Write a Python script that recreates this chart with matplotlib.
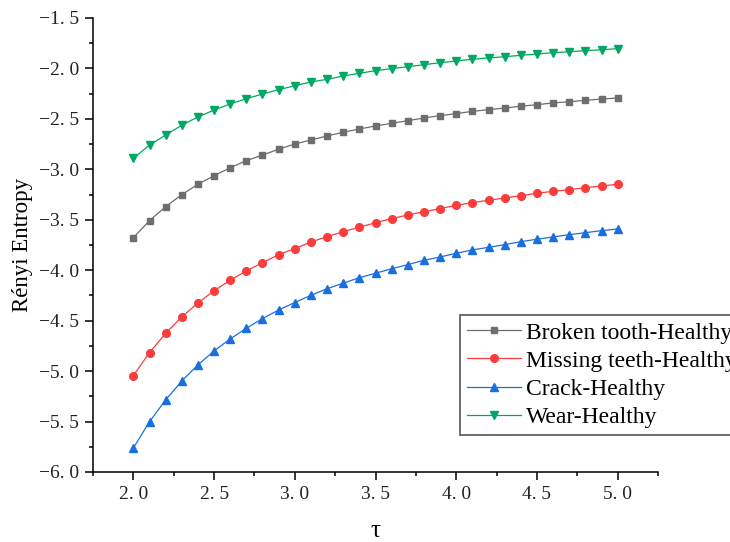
import matplotlib
matplotlib.use("Agg")
import matplotlib.pyplot as plt
from matplotlib.ticker import FixedLocator, MultipleLocator

# data
tau = [2.0, 2.1, 2.2, 2.3, 2.4, 2.5, 2.6, 2.7, 2.8, 2.9, 3.0,
       3.1, 3.2, 3.3, 3.4, 3.5, 3.6, 3.7, 3.8, 3.9, 4.0,
       4.1, 4.2, 4.3, 4.4, 4.5, 4.6, 4.7, 4.8, 4.9, 5.0]

broken = [-3.677, -3.509, -3.370, -3.251, -3.148, -3.063, -2.984, -2.914, -2.858, -2.801, -2.749,
          -2.709, -2.669, -2.633, -2.600, -2.570, -2.544, -2.518, -2.491, -2.468, -2.448,
          -2.425, -2.409, -2.392, -2.375, -2.359, -2.342, -2.330, -2.316, -2.303, -2.293]
missing = [-5.045, -4.817, -4.625, -4.463, -4.325, -4.203, -4.100, -4.007, -3.925, -3.846, -3.786,
           -3.720, -3.667, -3.618, -3.574, -3.529, -3.489, -3.452, -3.420, -3.390, -3.356,
           -3.330, -3.307, -3.284, -3.261, -3.237, -3.218, -3.202, -3.182, -3.165, -3.148]
crack = [-5.762, -5.501, -5.286, -5.098, -4.939, -4.800, -4.681, -4.575, -4.480, -4.394, -4.320,
         -4.248, -4.183, -4.129, -4.074, -4.030, -3.985, -3.945, -3.901, -3.869, -3.832,
         -3.799, -3.773, -3.747, -3.717, -3.693, -3.670, -3.648, -3.628, -3.608, -3.591]
wear = [-2.890, -2.760, -2.660, -2.563, -2.481, -2.412, -2.352, -2.300, -2.253, -2.211, -2.171,
        -2.134, -2.108, -2.075, -2.048, -2.022, -2.002, -1.983, -1.963, -1.943, -1.926,
        -1.909, -1.896, -1.884, -1.870, -1.857, -1.844, -1.834, -1.824, -1.814, -1.804]

labels = ["Broken tooth-Healthy", "Missing teeth-Healthy", "Crack-Healthy", "Wear-Healthy"]

xticks = [2.0, 2.5, 3.0, 3.5, 4.0, 4.5, 5.0]
yticks = [-6.0, -5.5, -5.0, -4.5, -4.0, -3.5, -3.0, -2.5, -2.0, -1.5]

plt.rcParams['font.family'] = ['Liberation Serif', 'DejaVu Serif']


def fmt(v):
    # tick labels look like "2. 0" with a real minus sign
    return f"{v:.1f}".replace('.', '. ').replace('-', '\u2212')


fig = plt.figure(figsize=(7.3, 5.42), dpi=100)
ax = fig.add_axes([93 / 730, 1 - 472 / 542, (658 - 93) / 730, (472 - 18) / 542])

ax.plot(tau, broken, color='#6e6e6e', marker='s', markersize=5, linewidth=0.9, label=labels[0])
ax.plot(tau, missing, color='#fa3c3c', marker='o', markersize=5.5, linewidth=0.9, label=labels[1])
ax.plot(tau, crack, color='#1a6fe0', marker='^', markersize=6, linewidth=0.9, label=labels[2])
ax.plot(tau, wear, color='#00a864', marker='v', markersize=6, linewidth=0.9, label=labels[3])

ax.set_xlim(1.75, 5.25)
ax.set_ylim(-6.0, -1.5)

ax.xaxis.set_major_locator(FixedLocator(xticks))
ax.set_xticklabels([fmt(v) for v in xticks])
ax.xaxis.set_minor_locator(MultipleLocator(0.25))
ax.yaxis.set_major_locator(FixedLocator(yticks))
ax.set_yticklabels([fmt(v) for v in yticks])
ax.yaxis.set_minor_locator(MultipleLocator(0.25))

ax.spines['top'].set_visible(False)
ax.spines['right'].set_visible(False)
for s in ['left', 'bottom']:
    ax.spines[s].set_linewidth(1.1)

ax.tick_params(which='major', direction='out', length=6, width=1.1, labelsize=14, pad=4, colors='black')
ax.tick_params(which='minor', direction='out', length=3, width=1.1)
for t in ax.get_xticklabels() + ax.get_yticklabels():
    t.set_color('#222222')

ax.set_xlabel('\u03c4', fontsize=18, labelpad=12)
ax.set_ylabel('R\u00e9nyi Entropy', fontsize=16.5, labelpad=4)

leg = ax.legend(loc='upper left', bbox_to_anchor=(460 / 730, 1 - 315 / 542),
                bbox_transform=fig.transFigure, borderaxespad=0, fancybox=False,
                fontsize=17, labelspacing=0.28, handlelength=2.3, handletextpad=0.2,
                borderpad=0.3, framealpha=1)
leg.get_frame().set_edgecolor('#555555')
leg.get_frame().set_linewidth(1.2)

plt.savefig('out.png', dpi=100)
